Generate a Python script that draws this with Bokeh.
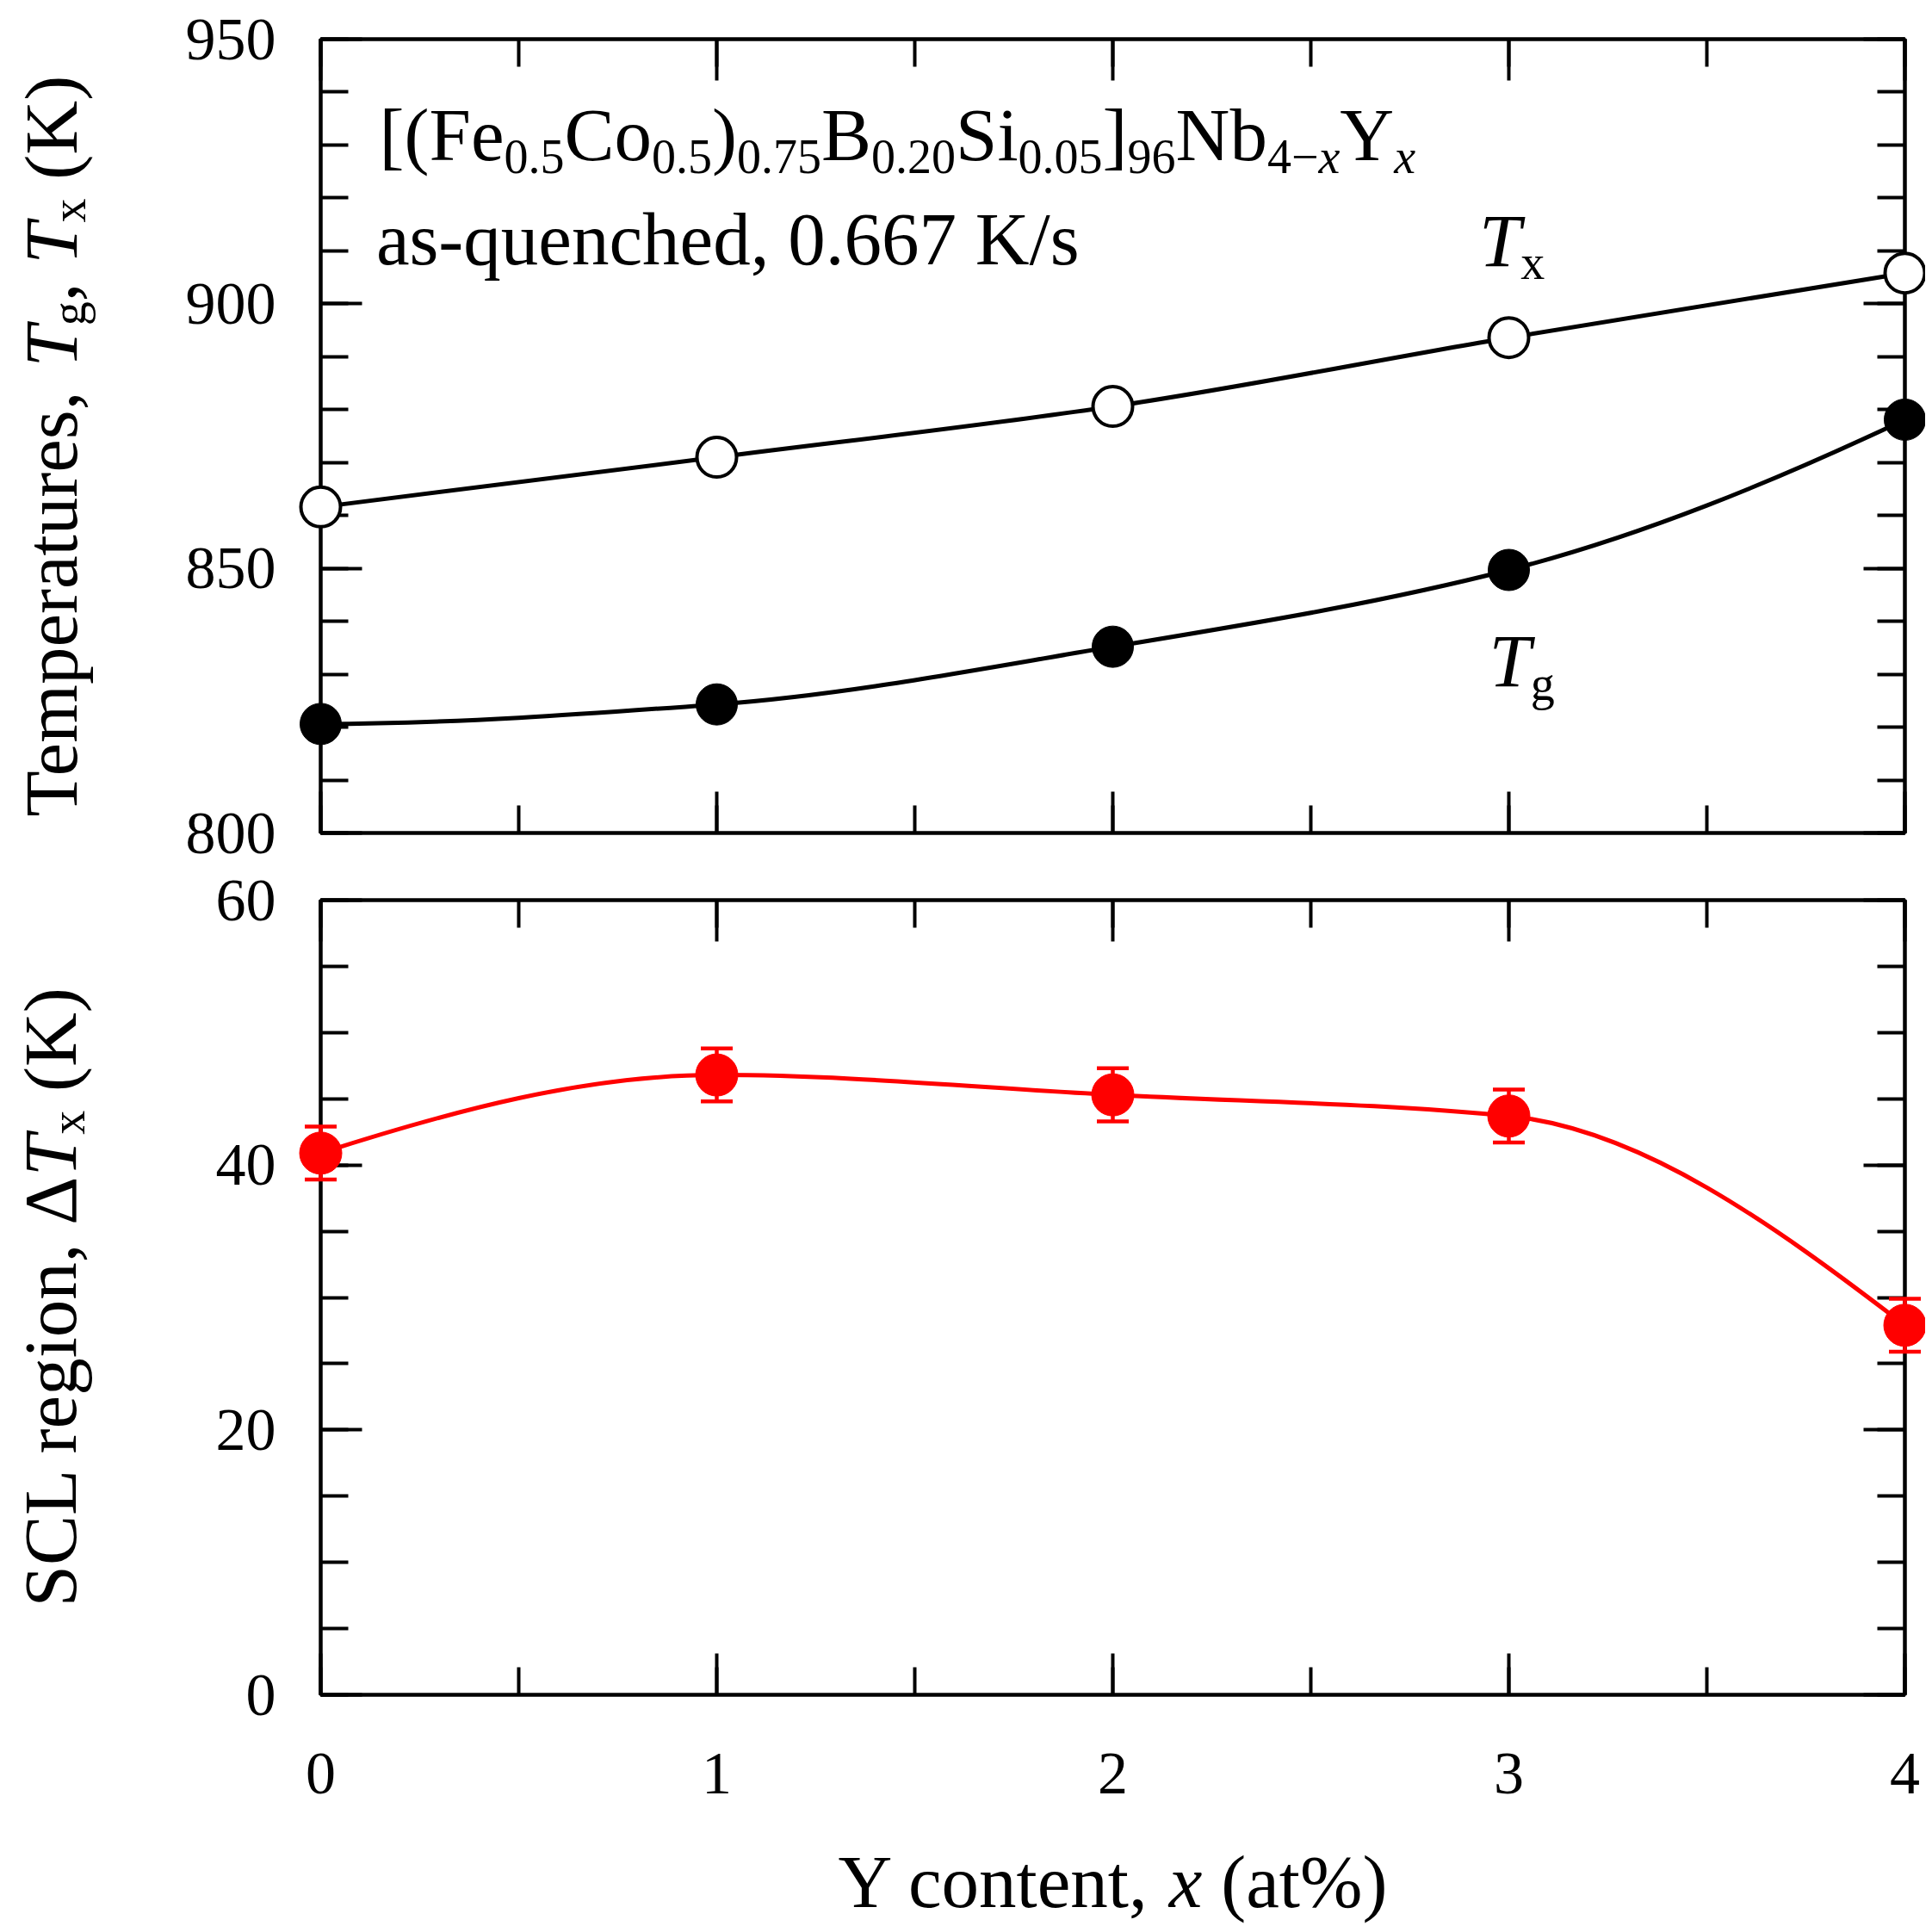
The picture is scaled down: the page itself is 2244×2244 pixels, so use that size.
import math

from bokeh.plotting import figure
from bokeh.layouts import column
from bokeh.models import LinearAxis, SingleIntervalTicker, CustomJSTickFormatter, Label
from bokeh.core.properties import value
from bokeh.embed import file_html
from bokeh.resources import INLINE

# values
y_content = [0, 1, 2, 3, 4]
t_g = [820.6, 824.3, 835.2, 849.7, 878.1]
t_x = [861.6, 871.0, 880.6, 893.6, 905.8]
delta_tx = [40.9, 46.8, 45.3, 43.7, 27.9]
delta_tx_err = [2.0, 2.0, 2.0, 2.0, 2.0]

FONT = "Liberation Serif"
BIG = 87      # titles / annotations
SUB = 56      # subscripts
SHIFT = 26    # subscript drop, px
TICK = 70     # tick labels
BASE_FIX = 30  # bokeh puts the "alphabetic" baseline this much lower

FRAME_W = 1840
TOP_FRAME_H = 922
BOT_FRAME_H = 923

# Times / Liberation Serif advance widths (em)
EM = {
    " ": .25, "(": .333, ")": .333, "[": .333, "]": .333, ",": .25, ".": .25,
    "-": .333, "/": .278, "%": .833, "\u2212": .564, "\u0394": .612,
    "B": .667, "C": .667, "F": .556, "K": .722, "L": .611, "N": .722,
    "S": .556, "T": .611, "Y": .722,
    "a": .444, "b": .5, "c": .444, "d": .5, "e": .444, "g": .5, "h": .5,
    "i": .278, "m": .778, "n": .5, "o": .5, "p": .5, "q": .5, "r": .333,
    "s": .389, "t": .278, "u": .5, "x": .5,
}
EM_IT = {"x": .444, "T": .556}


def run_width(text, size, italic):
    w = 0.0
    for ch in text:
        if italic and ch in EM_IT:
            w += EM_IT[ch]
        else:
            w += EM.get(ch, .5)
    return w * size


def layout_runs(runs, start=0.0):
    # gives (shown text, size, italic, is_sub, offset along the line)
    out = []
    pos = start
    for t, s, it in runs:
        sz = SUB if s else BIG
        lead = len(t) - len(t.lstrip(" "))
        out.append((t.strip(" "), sz, it, s, pos + run_width(" " * lead, sz, False)))
        pos += run_width(t, sz, it)
    return out, pos - start


def put_label(p, x, y, runs):
    # horizontal text inside the frame
    items, _ = layout_runs(runs)
    for t, sz, it, s, off in items:
        p.add_layout(Label(
            x=x, y=y, text=t, x_offset=off,
            y_offset=(-SHIFT if s else 0) + BASE_FIX,
            text_font=FONT, text_font_size=f"{sz}px",
            text_font_style="italic" if it else "normal",
            text_align="left", text_baseline="alphabetic", text_color="black",
        ))


def put_xtitle(p, x, y, runs, px_per_unit):
    # horizontal, centred on x, below the frame
    _, total = layout_runs(runs)
    items, _ = layout_runs(runs, -total / 2)
    for t, sz, it, s, off in items:
        p.text(x=[x], y=[y + BASE_FIX / px_per_unit], text=[t], x_offset=off,
               text_font=value(FONT), text_font_size=value(f"{sz}px"),
               text_font_style=value("italic" if it else "normal"),
               text_align="left", text_baseline="alphabetic",
               text_color="black", level="overlay")


def put_ytitle(p, x, y, runs, px_per_unit):
    # rotated 90 degrees, reading upwards from (x, y)
    items, _ = layout_runs(runs)
    x_fix = x - BASE_FIX / (FRAME_W / 4)
    for t, sz, it, s, off in items:
        p.text(x=[x_fix], y=[y + off / px_per_unit], text=[t],
               x_offset=20 if s else 0, angle=math.pi / 2,
               text_font=value(FONT), text_font_size=value(f"{sz}px"),
               text_font_style=value("italic" if it else "normal"),
               text_align="left", text_baseline="alphabetic",
               text_color="black", level="overlay")


def pchip_slopes(x, y):
    n = len(x)
    h = [x[i + 1] - x[i] for i in range(n - 1)]
    d = [(y[i + 1] - y[i]) / h[i] for i in range(n - 1)]
    m = [0.0] * n
    for k in range(1, n - 1):
        if d[k - 1] * d[k] > 0:
            w1 = 2 * h[k] + h[k - 1]
            w2 = h[k] + 2 * h[k - 1]
            m[k] = (w1 + w2) / (w1 / d[k - 1] + w2 / d[k])
    m[0] = ((2 * h[0] + h[1]) * d[0] - h[0] * d[1]) / (h[0] + h[1])
    m[-1] = ((2 * h[-1] + h[-2]) * d[-1] - h[-1] * d[-2]) / (h[-1] + h[-2])
    return m


def smooth_curve(p, x, y, color):
    m = pchip_slopes(x, y)
    x0, y0, x1, y1, cx0, cy0, cx1, cy1 = [], [], [], [], [], [], [], []
    for i in range(len(x) - 1):
        h = x[i + 1] - x[i]
        x0.append(x[i]); y0.append(y[i])
        x1.append(x[i + 1]); y1.append(y[i + 1])
        cx0.append(x[i] + h / 3); cy0.append(y[i] + m[i] * h / 3)
        cx1.append(x[i + 1] - h / 3); cy1.append(y[i + 1] - m[i + 1] * h / 3)
    p.bezier(x0=x0, y0=y0, x1=x1, y1=y1, cx0=cx0, cy0=cy0, cx1=cx1, cy1=cy1,
             line_color=color, line_width=5, level="overlay")


def style_axis(ax, interval, minor, labels, standoff=50):
    ax.ticker = SingleIntervalTicker(interval=interval, num_minor_ticks=minor)
    ax.axis_line_color = "black"
    ax.axis_line_width = 4
    ax.major_tick_in = 48
    ax.major_tick_out = 0
    ax.minor_tick_in = 32
    ax.minor_tick_out = 0
    ax.major_tick_line_color = "black"
    ax.minor_tick_line_color = "black"
    ax.major_tick_line_width = 4
    ax.minor_tick_line_width = 4
    if labels:
        ax.major_label_text_font = FONT
        ax.major_label_text_font_size = f"{TICK}px"
        ax.major_label_text_color = "black"
        ax.major_label_standoff = standoff
    else:
        ax.formatter = CustomJSTickFormatter(code="return ''")
        ax.major_label_standoff = 0


def make_panel(height, y_range, y_interval, y_minor, border_top, border_bottom, x_labels):
    p = figure(
        width=372 + FRAME_W + 24, height=height,
        x_range=(0, 4), y_range=y_range,
        output_backend="svg", toolbar_location=None,
        min_border_left=372, min_border_right=24,
        min_border_top=border_top, min_border_bottom=border_bottom,
        background_fill_color="white", border_fill_color="white",
    )
    p.add_layout(LinearAxis(), "above")
    p.add_layout(LinearAxis(), "right")
    p.xgrid.visible = False
    p.ygrid.visible = False
    p.outline_line_color = "black"
    p.outline_line_width = 4
    for ax in p.below:
        style_axis(ax, 1, 2, x_labels, standoff=68)
    for ax in p.above:
        style_axis(ax, 1, 2, False)
    for ax in p.left:
        style_axis(ax, y_interval, y_minor, True, standoff=52)
    for ax in p.right:
        style_axis(ax, y_interval, y_minor, False)
    return p


# ---------------- top panel: Tg, Tx ----------------
p1 = make_panel(45 + TOP_FRAME_H + 39, (800, 950), 50, 5, 45, 39, False)

smooth_curve(p1, y_content, t_x, "black")
smooth_curve(p1, y_content, t_g, "black")
p1.scatter(y_content, t_x, marker="circle", size=46, fill_color="white",
           line_color="black", line_width=4, level="overlay")
p1.scatter(y_content, t_g, marker="circle", size=48, fill_color="black",
           line_color="black", level="overlay")

put_label(p1, 0.148, 927.1, [
    ("[(Fe", False, False), ("0.5", True, False), ("Co", False, False),
    ("0.5", True, False), (")", False, False), ("0.75", True, False),
    ("B", False, False), ("0.20", True, False), ("Si", False, False),
    ("0.05", True, False), ("]", False, False), ("96", True, False),
    ("Nb", False, False), ("4\u2212", True, False), ("x", True, True),
    ("Y", False, False), ("x", True, True),
])
put_label(p1, 0.14, 907.4, [("as-quenched, 0.667 K/s", False, False)])
put_label(p1, 2.925, 907.1, [("T", False, True), ("x", True, False)])
put_label(p1, 2.95, 827.6, [("T", False, True), ("g", True, False)])
put_ytitle(p1, -0.615, 803.1, [
    ("Temperatures, ", False, False), ("T", False, True), ("g", True, False),
    (", ", False, False), ("T", False, True), ("x", True, False),
    (" (K)", False, False),
], TOP_FRAME_H / 150)

# ---------------- bottom panel: delta Tx ----------------
p2 = make_panel(2236 - (45 + TOP_FRAME_H + 39), (0, 60), 20, 4, 39,
                2236 - (45 + TOP_FRAME_H + 39) - 39 - BOT_FRAME_H, True)

lower = [v - e for v, e in zip(delta_tx, delta_tx_err)]
upper = [v + e for v, e in zip(delta_tx, delta_tx_err)]

smooth_curve(p2, y_content, delta_tx, "red")
p2.segment(x0=y_content, y0=lower, x1=y_content, y1=upper,
           line_color="red", line_width=4.5, level="overlay")
p2.scatter(y_content, upper, marker="dash", size=37, line_color="red",
           line_width=4.5, level="overlay")
p2.scatter(y_content, lower, marker="dash", size=37, line_color="red",
           line_width=4.5, level="overlay")
p2.scatter(y_content, delta_tx, marker="circle", size=49, fill_color="red",
           line_color="red", level="overlay")

put_ytitle(p2, -0.617, 6.63, [
    ("SCL region, \u0394", False, False), ("T", False, True), ("x", True, False),
    (" (K)", False, False),
], BOT_FRAME_H / 60)
put_xtitle(p2, 2, -16.03, [
    ("Y content, ", False, False), ("x", False, True), (" (at%)", False, False),
], BOT_FRAME_H / 60)

layout = column(p1, p2)
open("out.html", "w").write(file_html(layout, INLINE))
